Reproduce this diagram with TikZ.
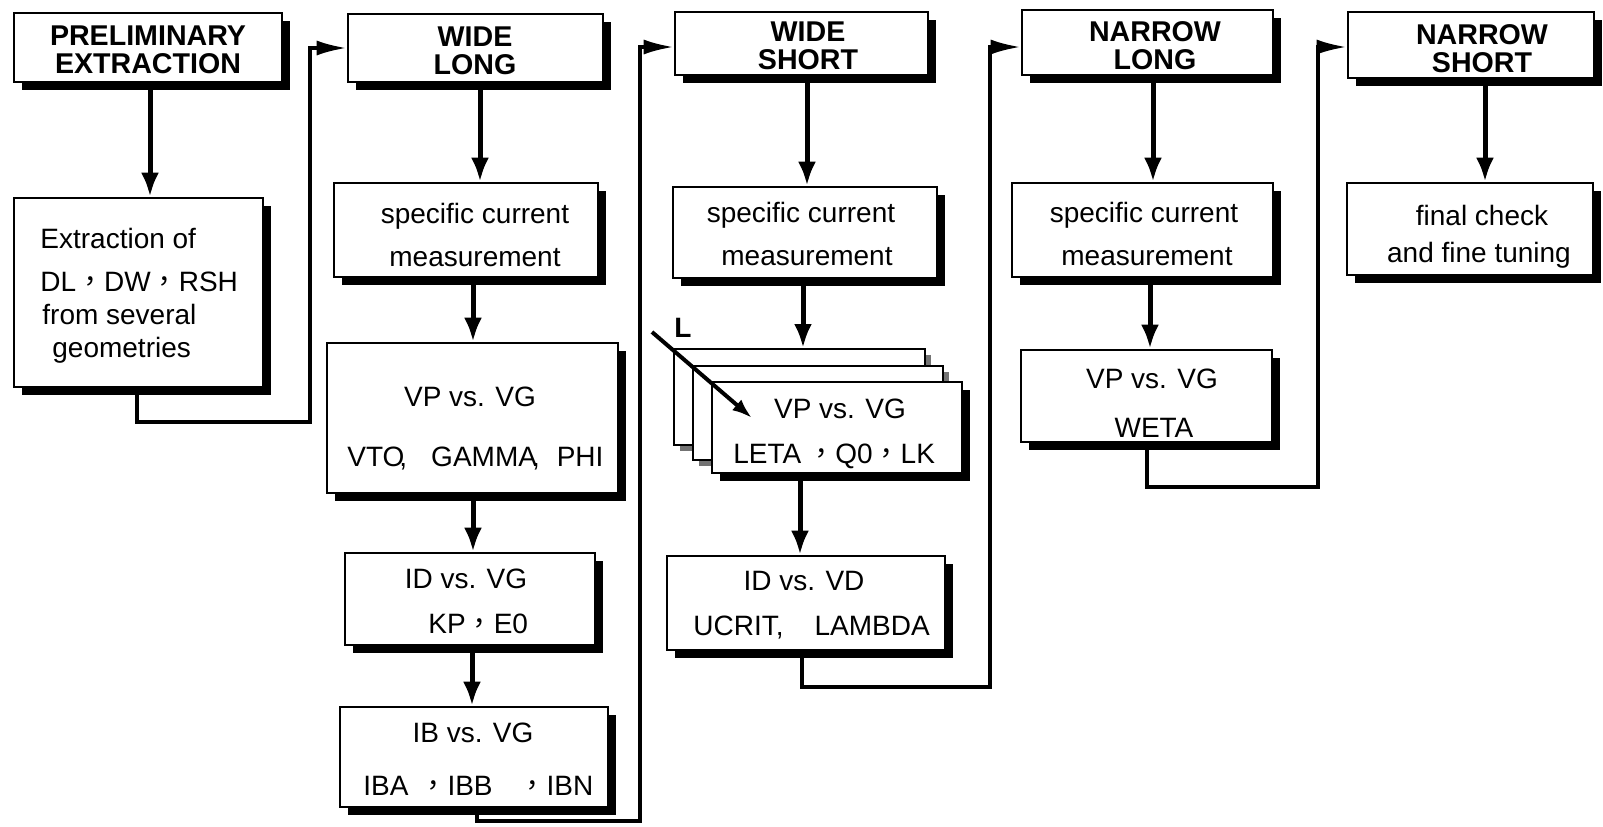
\documentclass[tikz,border=0pt]{standalone}
\usepackage{fontspec}
\setmainfont{Liberation Sans}
\newfontfamily\cjkf{Noto Sans CJK TC}
\usetikzlibrary{arrows.meta,shadows}
\newcommand{\fc}{{\cjkf ，}}
\begin{document}
\begin{tikzpicture}[x=0.5pt,y=-0.5pt,
  box/.style={draw=black, line width=1.3pt, fill=white, inner sep=0pt,
    drop shadow={shadow xshift=3.75pt, shadow yshift=-3.75pt, opacity=1, fill=black}},
  gbox/.style={draw=black, line width=1pt, fill=white, inner sep=0pt,
    drop shadow={shadow xshift=2.75pt, shadow yshift=-2.75pt, opacity=1, fill=black!55}},
  txt/.style={inner sep=0pt, anchor=base, font=\fontsize{14}{16}\selectfont},
  hdr/.style={inner sep=0pt, anchor=center, align=center, font=\bfseries\fontsize{14.3}{14}\selectfont},
  varrow/.style={line width=2.5pt, -{Latex[length=12pt,width=9pt]}},
  looparrow/.style={line width=1.7pt, line join=miter, -{Latex[length=15pt,width=7.5pt]}},
  larrow/.style={line width=2pt, -{Latex[length=10pt,width=7pt]}}]
\useasboundingbox (0,0) rectangle (1603,826);

% ---------- boxes ----------
\node[box, minimum width=134pt, minimum height=34.5pt] (P) at (148,47.5) {};
\node[box, minimum width=124.5pt, minimum height=94.5pt] (E) at (138.5,292.5) {};
\node[box, minimum width=127.5pt, minimum height=34pt] (WL) at (475.5,48) {};
\node[box, minimum width=132pt, minimum height=47pt] (WLs) at (466,230) {};
\node[box, minimum width=145.5pt, minimum height=75pt] (WLv) at (472.5,418) {};
\node[box, minimum width=125pt, minimum height=46pt] (WLi) at (470,599) {};
\node[box, minimum width=134pt, minimum height=50pt] (WLb) at (474,757) {};
\node[box, minimum width=126.5pt, minimum height=31.5pt] (WS) at (801.5,43.5) {};
\node[box, minimum width=132pt, minimum height=45.5pt] (WSs) at (805,232.5) {};
\node[gbox, minimum width=125.5pt, minimum height=48pt] (SB) at (799.5,397) {};
\node[gbox, minimum width=125pt, minimum height=47pt] (SM) at (818,413) {};
\node[box, minimum width=125pt, minimum height=45.5pt] (SF) at (837,427.5) {};
\node[box, minimum width=139pt, minimum height=47pt] (WSi) at (806,603) {};
\node[box, minimum width=125.5pt, minimum height=32.5pt] (NL) at (1147.5,42.5) {};
\node[box, minimum width=130.5pt, minimum height=47pt] (NLs) at (1142.5,230) {};
\node[box, minimum width=125.5pt, minimum height=46pt] (NLv) at (1146.5,396) {};
\node[box, minimum width=123pt, minimum height=33pt] (NS) at (1471,45) {};
\node[box, minimum width=123pt, minimum height=46pt] (NSf) at (1470,229) {};

% ---------- texts ----------
\node[hdr] (tP) at (148,50) {PRELIMINARY\\EXTRACTION};
\node[hdr] (tWL) at (475,51) {WIDE\\LONG};
\node[hdr] (tWS) at (808,45.5) {WIDE\\SHORT};
\node[hdr] (tNL) at (1155,46) {NARROW\\LONG};
\node[hdr] (tNS) at (1482,49) {NARROW\\SHORT};

\node[txt, anchor=base west] (e1) at (40,248) {Extraction of};
\node[txt, anchor=base west] (e2) at (40,291) {DL\fc DW\fc RSH};
\node[txt, anchor=base west] (e3) at (42,324) {from several};
\node[txt, anchor=base west] (e4) at (52,357) {geometries};

\node[txt] (wls1) at (475,223) {specific current};
\node[txt] (wls2) at (475,266) {measurement};
\node[txt] (wlv1) at (470,406) {VP vs. VG};
\node[txt, anchor=base west] (wlv2) at (347,466) {VTO\kern-2.5pt,\hspace{12pt}GAMMA\kern-2.5pt,\hspace{8.5pt}PHI};
\node[txt] (wli1) at (466,588) {ID vs. VG};
\node[txt, anchor=base west] (wli2) at (428,633) {KP\fc E0};
\node[txt] (wlb1) at (473,742) {IB vs. VG};
\node[txt, anchor=base west] (wlb2) at (363,795) {IBA\hspace{5.5pt}\fc IBB\hspace{13pt}\fc IBN};

\node[txt] (wss1) at (801,222) {specific current};
\node[txt] (wss2) at (807,265) {measurement};
\node[txt] (sf1) at (840,418) {VP vs. VG};
\node[txt, anchor=base west] (sf2) at (733,463) {LETA\hspace{3pt}\fc Q0\fc LK};
\node[txt] (wsi1) at (804,590) {ID vs. VD};
\node[txt, anchor=base west] (wsi2) at (693,635) {UCRIT,\hspace{15.5pt}LAMBDA};
\node[inner sep=0pt, anchor=base, font=\bfseries\fontsize{14}{16}\selectfont] (Lt) at (683,337) {L};

\node[txt] (nls1) at (1144,222) {specific current};
\node[txt] (nls2) at (1147,265) {measurement};
\node[txt] (nlv1) at (1152,388) {VP vs. VG};
\node[txt] (nlv2) at (1154,437) {WETA};
\node[txt] (nsf1) at (1482,225) {final check};
\node[txt] (nsf2) at (1479,262) {and fine tuning};

% ---------- connector coordinates ----------
\coordinate (x150) at (150,0);
\coordinate (x480) at (480,0);
\coordinate (x473) at (473,0);
\coordinate (x472) at (472,0);
\coordinate (x807) at (807,0);
\coordinate (x803) at (803,0);
\coordinate (x800) at (800,0);
\coordinate (x1153) at (1153,0);
\coordinate (x1150) at (1150,0);
\coordinate (x1485) at (1485,0);

\coordinate (a1) at (137,422);
\coordinate (a2) at (310,422);
\coordinate (a3) at (310,48);
\coordinate (b1) at (477,821);
\coordinate (b2) at (640,821);
\coordinate (b3) at (640,47);
\coordinate (c1) at (802,687);
\coordinate (c2) at (990,687);
\coordinate (c3) at (990,47);
\coordinate (d1) at (1147,487);
\coordinate (d2) at (1318,487);
\coordinate (d3) at (1318,47);
\coordinate (Ls) at (652,332);
\coordinate (Le) at (752,418);

% ---------- vertical arrows ----------
\draw[varrow] (P.south -| x150) -- (E.north -| x150);
\draw[varrow] (WL.south -| x480) -- (WLs.north -| x480);
\draw[varrow] (WLs.south -| x473) -- (WLv.north -| x473);
\draw[varrow] (WLv.south -| x473) -- (WLi.north -| x473);
\draw[varrow] (WLi.south -| x472) -- (WLb.north -| x472);
\draw[varrow] (WS.south -| x807) -- (WSs.north -| x807);
\draw[varrow] (WSs.south -| x803) -- (SB.north -| x803);
\draw[varrow] (SF.south -| x800) -- (WSi.north -| x800);
\draw[varrow] (NL.south -| x1153) -- (NLs.north -| x1153);
\draw[varrow] (NLs.south -| x1150) -- (NLv.north -| x1150);
\draw[varrow] (NS.south -| x1485) -- (NSf.north -| x1485);

% ---------- loop connectors ----------
\draw[looparrow] (E.south -| a1) -- (a1) -- (a2) -- (a3) -- (WL.west |- a3);
\draw[looparrow] (WLb.south -| b1) -- (b1) -- (b2) -- (b3) -- (WS.west |- b3);
\draw[looparrow] (WSi.south -| c1) -- (c1) -- (c2) -- (c3) -- (NL.west |- c3);
\draw[looparrow] (NLv.south -| d1) -- (d1) -- (d2) -- (d3) -- (NS.west |- d3);

% ---------- L arrow ----------
\draw[larrow] (Ls) -- (Le);
\end{tikzpicture}
\end{document}
